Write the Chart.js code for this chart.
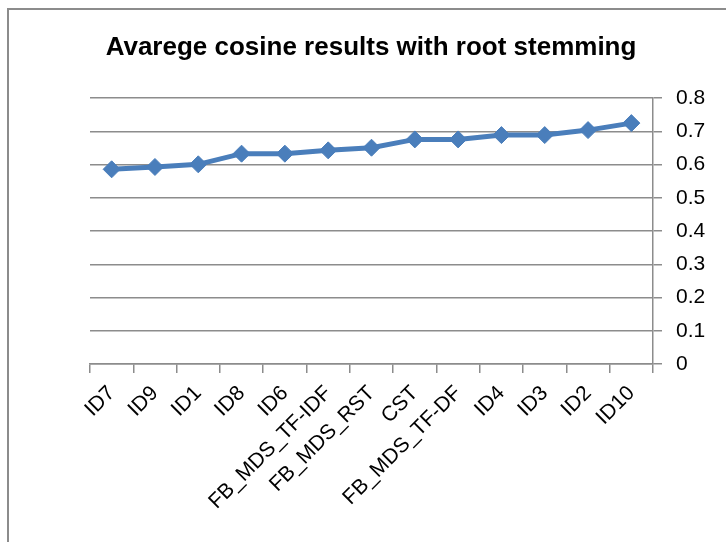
<!DOCTYPE html>
<html>
<head>
<meta charset="utf-8">
<script src="https://cdn.jsdelivr.net/npm/chart.js@4.4.1/dist/chart.umd.min.js"></script>
<style>
  html, body { margin: 0; padding: 0; background: #fff; overflow: hidden; }
  #frame { position: absolute; left: 7px; top: 8px; width: 1000px; height: 1000px; border: 2px solid #8c8c8c; }
  #wrap { position: absolute; left: 0; top: 0; width: 726px; height: 542px; }
</style>
</head>
<body>
<div id="frame"></div>
<div id="wrap"><canvas id="cosineChart" width="726" height="542"></canvas></div>
<script>
// data
const categorias = ["ID7", "ID9", "ID1", "ID8", "ID6", "FB_MDS_TF-IDF", "FB_MDS_RST", "CST", "FB_MDS_TF-DF", "ID4", "ID3", "ID2", "ID10"];
const valoresCoseno = [0.586, 0.593, 0.601, 0.633, 0.633, 0.643, 0.651, 0.676, 0.676, 0.689, 0.689, 0.704, 0.725];
const tituloGrafico = "Avarege cosine results with root stemming";
const yMin = 0, yMax = 0.8, yPaso = 0.1;

const colorLinea = "#4a7ebb";
const colorGrid = "#8c8c8c";
const fuente = "'Liberation Sans', Arial, sans-serif";

const ctx = document.getElementById("cosineChart").getContext("2d");

new Chart(ctx, {
  type: "line",
  data: {
    labels: categorias,
    datasets: [{
      data: valoresCoseno,
      yAxisID: "y",
      borderColor: colorLinea,
      backgroundColor: colorLinea,
      borderWidth: 5,
      tension: 0,
      fill: false,
      pointStyle: "rectRot",
      pointRadius: 8.5,
      pointBackgroundColor: colorLinea,
      pointBorderColor: colorLinea,
      pointBorderWidth: 1
    }]
  },
  options: {
    responsive: false,
    animation: false,
    layout: { padding: { left: 16, right: 0, top: 0, bottom: 0 } },
    plugins: {
      legend: { display: false },
      tooltip: { enabled: false },
      title: {
        display: true,
        text: tituloGrafico,
        color: "#000",
        font: { family: fuente, size: 26, weight: "bold" },
        padding: { top: 32, bottom: 35 }
      }
    },
    scales: {
      // empty left spacer so the plot starts where the original does
      espacio: {
        type: "linear",
        position: "left",
        display: true,
        grid: { display: false },
        border: { display: false },
        ticks: { display: false },
        afterFit: s => { s.width = 74; }
      },
      x: {
        offset: true,
        grid: {
          offset: true,
          drawOnChartArea: false,
          drawTicks: true,
          tickLength: 9,
          color: colorGrid,
          lineWidth: 1.5
        },
        border: { display: true, color: colorGrid, width: 1.5 },
        ticks: {
          autoSkip: false,
          minRotation: 45,
          maxRotation: 45,
          padding: 8,
          color: "#000",
          font: { family: fuente, size: 21 }
        },
        afterFit: s => { s.height = 178; }
      },
      y: {
        position: "right",
        min: yMin,
        max: yMax,
        grid: { color: colorGrid, lineWidth: 1.5, tickLength: 9 },
        border: { display: true, color: colorGrid, width: 1.5 },
        ticks: {
          stepSize: yPaso,
          padding: 14,
          color: "#000",
          font: { family: fuente, size: 21 },
          callback: v => (v === 0 ? "0" : v.toFixed(1))
        },
        afterFit: s => { s.width = 73; }
      }
    }
  }
});
</script>
</body>
</html>
